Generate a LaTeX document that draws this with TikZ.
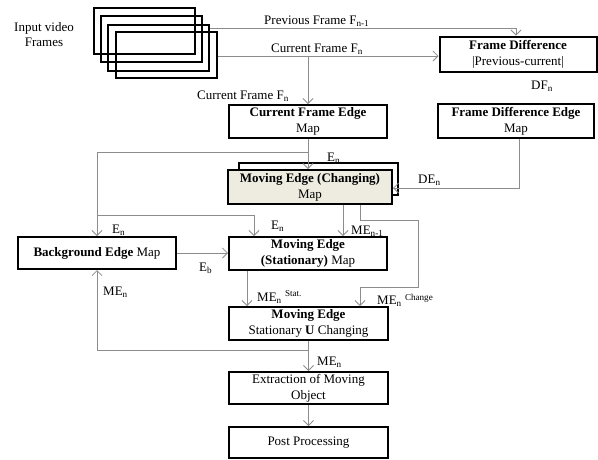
\documentclass[tikz,border=0pt]{standalone}
\usepackage{fontspec}
\setmainfont{Liberation Serif}
\usetikzlibrary{arrows.meta,calc}
\definecolor{linegray}{RGB}{140,140,140}
\definecolor{beige}{RGB}{238,235,224}
\begin{document}
\begin{tikzpicture}[x=1pt,y=-1pt,
  box/.style={draw=black,line width=2pt,minimum width=158pt,minimum height=33pt,inner sep=0pt,align=center,font=\fontsize{13}{16}\selectfont},
  conn/.style={draw=linegray,line width=0.8pt,-{Straight Barb[length=5pt,width=10pt]}},
  plain/.style={draw=linegray,line width=0.8pt},
  lbl/.style={anchor=west,inner sep=0pt,font=\fontsize{13}{15}\selectfont},
  frm/.style={draw=black,line width=2pt,minimum width=101pt,minimum height=46pt,inner sep=0pt}]
\useasboundingbox (0,0) rectangle (598,459);

% input frames
\node[align=center,font=\fontsize{13}{15}\selectfont] (inp) at (44,35) {Input video\\Frames};
\node[frm] (f1) at (144,31) {};
\node[frm] (f2) at (151,39) {};
\node[frm] (f3) at (158.5,47.5) {};
\node[frm] (f4) at (166,55) {};

% boxes
\node[box,minimum width=157pt,minimum height=35pt] (fd) at (518,54) {\textbf{Frame Difference}\\|Previous-current|};
\node[box] (cfe) at (308,121.5) {\textbf{Current Frame Edge}\\Map};
\node[box,minimum width=156pt,minimum height=34pt] (fde) at (516,121) {\textbf{Frame Difference Edge}\\Map};
\draw[line width=2pt,fill=white] (239,163) rectangle (398,195);
\node[box,fill=beige,minimum width=164pt,minimum height=34pt] (mec) at (310,187) {\textbf{Moving Edge (Changing)}\\Map};
\node[box,minimum height=32pt] (bg) at (97,253) {\textbf{Background Edge} Map};
\node[box] (mes) at (308,253.5) {\textbf{Moving Edge}\\\textbf{(Stationary)} Map};
\node[box,minimum width=159pt] (me) at (308.5,323.5) {\textbf{Moving Edge}\\Stationary \textbf{U} Changing};
\node[box,minimum width=159pt,minimum height=32pt] (ext) at (308.5,388) {Extraction of Moving\\Object};
\node[box,minimum width=159pt,minimum height=31pt] (pp) at (308.5,442.5) {Post Processing};

% connectors
\coordinate (pbend) at (516,28);
\draw[conn] (f3.east |- pbend) -- (pbend) -- (pbend |- fd.north);
\coordinate (cy) at (0,56);
\draw[conn] (f4.east |- cy) -- (fd.west |- cy);
\coordinate (cb) at (308,56);
\draw[conn] (cb) -- (cfe.north);
\draw[conn] (cfe.south) -- (cfe.south |- mec.north);
\coordinate (lb) at (308,152);
\coordinate (lx) at (97,152);
\draw[plain] (lb) -- (lx);
\draw[conn] (lx) -- (bg.north);
\coordinate (mb) at (97,215);
\coordinate (mx) at (254,215);
\draw[conn] (mb) -- (mx) -- (mx |- mes.north);
\coordinate (db) at (519,188);
\draw[conn] (db |- fde.south) -- (db) -- (mec.east |- db);
\coordinate (m1) at (343,0);
\draw[conn] (mec.south -| m1) -- (mes.north -| m1);
\coordinate (c1) at (360,220);
\coordinate (c2) at (418,220);
\coordinate (c3) at (418,287);
\coordinate (c4) at (360,287);
\draw[conn] (mec.south -| c1) -- (c1) -- (c2) -- (c3) -- (c4) -- (me.north -| c4);
\draw[conn] (bg.east) -- (bg.east -| mes.west);
\coordinate (s1) at (247,0);
\draw[conn] (mes.south -| s1) -- (me.north -| s1);
\draw[conn] (me.south) -- (ext.north);
\coordinate (b1) at (308.5,350);
\coordinate (b2) at (97,350);
\draw[plain] (b1) -- (b2);
\draw[conn] (b2) -- (bg.south);
\draw[conn] (ext.south) -- (pp.north);

% labels
\node[lbl] (l1) at (264,21) {Previous Frame F\textsubscript{n-1}};
\node[lbl] (l2) at (271,49) {Current Frame F\textsubscript{n}};
\node[lbl] (l3) at (197,96) {Current Frame F\textsubscript{n}};
\node[lbl] (l4) at (531,86) {DF\textsubscript{n}};
\node[lbl] (l5) at (327,158) {E\textsubscript{n}};
\node[lbl] (l6) at (418,180) {DE\textsubscript{n}};
\node[lbl] (l7) at (112,230) {E\textsubscript{n}};
\node[lbl] (l8) at (271,226) {E\textsubscript{n}};
\node[lbl] (l9) at (351,231) {ME\textsubscript{n-1}};
\node[lbl] (l10) at (199,268) {E\textsubscript{b}};
\node[lbl] (l11) at (103,292) {ME\textsubscript{n}};
\node[lbl] (l12) at (257,297) {ME\textsubscript{n}~\textsuperscript{Stat.}};
\node[lbl] (l13) at (377,300) {ME\textsubscript{n}~\textsuperscript{Change}};
\node[lbl] (l14) at (317,362) {ME\textsubscript{n}};
\end{tikzpicture}
\end{document}
